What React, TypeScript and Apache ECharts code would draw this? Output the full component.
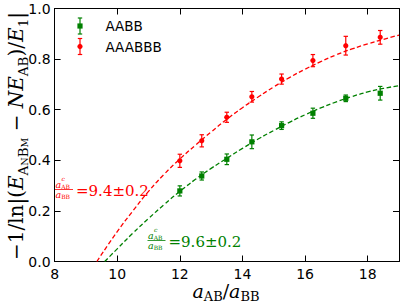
import React, { useEffect, useRef } from 'react';
import * as echarts from 'echarts';

// ---- data ----
const ratioX = [12, 12.7, 13.5, 14.3, 15.25, 16.25, 17.3, 18.4];
const aabbY = [0.279, 0.338, 0.404, 0.473, 0.537, 0.586, 0.645, 0.665];
const aabbErr = [0.02, 0.016, 0.021, 0.027, 0.015, 0.02, 0.013, 0.027];
const aaabbbY = [0.398, 0.477, 0.57, 0.651, 0.721, 0.794, 0.853, 0.886];
const aaabbbErr = [0.026, 0.024, 0.02, 0.021, 0.02, 0.024, 0.037, 0.027];

const fitRedX = [9.35, 10, 10.5, 11, 11.5, 12, 12.5, 13, 13.5, 14, 14.5, 15, 15.5, 16, 16.5, 17, 17.5, 18, 18.5, 19];
const fitRedY = [0, 0.118, 0.2, 0.277, 0.345, 0.405, 0.46, 0.512, 0.562, 0.608, 0.65, 0.69, 0.727, 0.76, 0.79, 0.817, 0.84, 0.86, 0.878, 0.895];
const fitGreenX = [9.6, 10, 10.5, 11, 11.5, 12, 12.5, 13, 13.5, 14, 14.5, 15, 15.5, 16, 16.5, 17, 17.5, 18, 18.5, 19];
const fitGreenY = [0, 0.05, 0.112, 0.17, 0.225, 0.277, 0.325, 0.368, 0.408, 0.447, 0.484, 0.518, 0.55, 0.58, 0.607, 0.631, 0.652, 0.67, 0.684, 0.695];

const seriesNames = ['AABB', 'AAABBB'];
const critRed = '9.4±0.2';
const critGreen = '9.6±0.2';

const RED = '#ff0000';
const GREEN = '#008000';
const SERIF = 'DejaVu Serif';

function zip2(a: number[], b: number[]) {
  return a.map((v, i) => [v, b[i]]);
}
function zip3(a: number[], b: number[], c: number[]) {
  return a.map((v, i) => [v, b[i], c[i]]);
}

function errorRender(color: string, shape: 'square' | 'circle') {
  return (_params: any, api: any) => {
    const x = api.value(0);
    const y = api.value(1);
    const e = api.value(2);
    const c = api.coord([x, y]);
    const t = api.coord([x, y + e]);
    const b = api.coord([x, y - e]);
    const cw = 2.2;
    const ls = { stroke: color, lineWidth: 1.2 };
    return {
      type: 'group',
      children: [
        { type: 'line', shape: { x1: c[0], y1: t[1], x2: c[0], y2: b[1] }, style: ls },
        { type: 'line', shape: { x1: c[0] - cw, y1: t[1], x2: c[0] + cw, y2: t[1] }, style: ls },
        { type: 'line', shape: { x1: c[0] - cw, y1: b[1], x2: c[0] + cw, y2: b[1] }, style: ls },
        shape === 'square'
          ? { type: 'rect', shape: { x: c[0] - 2.6, y: c[1] - 2.6, width: 5.2, height: 5.2 }, style: { fill: color } }
          : { type: 'circle', shape: { cx: c[0], cy: c[1], r: 2.6 }, style: { fill: color } },
      ],
    };
  };
}

function legendItem(x: number, y: number, color: string, shape: 'square' | 'circle', label: string) {
  const ls = { stroke: color, lineWidth: 1.2 };
  return [
    { type: 'line', shape: { x1: x, y1: y - 8, x2: x, y2: y + 8 }, style: ls },
    { type: 'line', shape: { x1: x - 2.2, y1: y - 8, x2: x + 2.2, y2: y - 8 }, style: ls },
    { type: 'line', shape: { x1: x - 2.2, y1: y + 8, x2: x + 2.2, y2: y + 8 }, style: ls },
    shape === 'square'
      ? { type: 'rect', shape: { x: x - 2.6, y: y - 2.6, width: 5.2, height: 5.2 }, style: { fill: color } }
      : { type: 'circle', shape: { cx: x, cy: y, r: 2.6 }, style: { fill: color } },
    {
      type: 'text', x: x + 25.5, y,
      style: { text: label, fill: '#000', font: '13.5px "DejaVu Sans"', align: 'left', verticalAlign: 'middle' },
    },
  ];
}

function fraction(x0: number, yBar: number, color: string, value: string) {
  return [
    {
      type: 'text', x: x0 + 0.5, y: yBar - 13,
      style: {
        text: '{gap| }{sup|c}\n{ia|a}{sub|AB}\n{ia|a}{sub|BB}',
        align: 'left', verticalAlign: 'top',
        rich: {
          gap: { width: 6, fontSize: 3, lineHeight: 3 },
          sup: { fontFamily: SERIF, fontStyle: 'italic', fontSize: 6, lineHeight: 3, fill: color },
          ia: { fontFamily: SERIF, fontStyle: 'italic', fontSize: 9.5, lineHeight: 10, fill: color },
          sub: { fontFamily: SERIF, fontSize: 6, lineHeight: 8, verticalAlign: 'bottom', fill: color },
        },
      },
    },
    { type: 'line', shape: { x1: x0, y1: yBar, x2: x0 + 18, y2: yBar }, style: { stroke: color, lineWidth: 0.8 } },
    {
      type: 'text', x: x0 + 21, y: yBar + 1,
      style: { text: '=' + value, fill: color, fontFamily: SERIF, fontSize: 15, align: 'left', verticalAlign: 'middle' },
    },
  ];
}

export default function App() {
  const ref = useRef<HTMLDivElement>(null);
  useEffect(() => {
    if (!ref.current) return;
    const chart = echarts.init(ref.current, undefined, { renderer: 'svg' });
    const axisCommon = {
      type: 'value',
      axisLine: { show: true, onZero: false, lineStyle: { color: '#000', width: 1 } },
      axisTick: { show: true, inside: true, length: 6, lineStyle: { color: '#000', width: 1 } },
      splitLine: { show: false },
    };
    const labelStyle = { color: '#000', fontSize: 14, fontFamily: 'DejaVu Sans' };
    const option: any = {
      animation: false,
      grid: { left: 54.6, right: 2.5, top: 8.5, bottom: 43.5, containLabel: false },
      xAxis: [
        {
          ...axisCommon, min: 8, max: 19, interval: 2, position: 'bottom',
          axisLabel: { ...labelStyle, margin: 5, formatter: (v: number) => (v === 19 ? '' : String(v)) },
        },
        { ...axisCommon, min: 8, max: 19, interval: 2, position: 'top', axisLabel: { show: false } },
      ],
      yAxis: [
        {
          ...axisCommon, min: 0, max: 1, interval: 0.2, position: 'left',
          axisLabel: { ...labelStyle, margin: 4, formatter: (v: number) => v.toFixed(1) },
        },
        { ...axisCommon, min: 0, max: 1, interval: 0.2, position: 'right', axisLabel: { show: false } },
      ],
      series: [
        {
          type: 'line', data: zip2(fitGreenX, fitGreenY), smooth: 0.5,
          symbol: 'none', clip: true, z: 1,
          lineStyle: { color: GREEN, width: 1.3, type: [4.5, 2.5] },
        },
        {
          type: 'line', data: zip2(fitRedX, fitRedY), smooth: 0.5,
          symbol: 'none', clip: true, z: 1,
          lineStyle: { color: RED, width: 1.3, type: [4.5, 2.5] },
        },
        {
          name: seriesNames[0], type: 'custom', renderItem: errorRender(GREEN, 'square'),
          data: zip3(ratioX, aabbY, aabbErr), encode: { x: 0, y: 1 }, z: 3,
        },
        {
          name: seriesNames[1], type: 'custom', renderItem: errorRender(RED, 'circle'),
          data: zip3(ratioX, aaabbbY, aaabbbErr), encode: { x: 0, y: 1 }, z: 3,
        },
      ],
      graphic: [
        ...legendItem(80, 26, GREEN, 'square', seriesNames[0]),
        ...legendItem(80, 46.5, RED, 'circle', seriesNames[1]),
        ...fraction(55, 189.5, RED, critRed),
        ...fraction(147.5, 240.5, GREEN, critGreen),
        {
          type: 'text', x: 226, y: 291,
          style: {
            text: '{it|a}{sub|AB}{rm|/}{it|a}{sub|BB}',
            align: 'center', verticalAlign: 'middle',
            rich: {
              it: { fontFamily: SERIF, fontStyle: 'italic', fontSize: 19, lineHeight: 24, fill: '#000' },
              rm: { fontFamily: SERIF, fontSize: 19, lineHeight: 24, fill: '#000' },
              sub: { fontFamily: SERIF, fontSize: 13, lineHeight: 13, verticalAlign: 'bottom', fill: '#000' },
            },
          },
        },
        {
          type: 'text', x: 16, y: 136, rotation: Math.PI / 2,
          style: {
            text: '{rm|−1/ln|(}{it|E}{sub|A}{ss|N}{sub|B}{ss|M}{rm| − }{it|NE}{sub|AB}{rm|)/}{it|E}{sub|1}{rm||}',
            align: 'center', verticalAlign: 'middle',
            rich: {
              it: { fontFamily: SERIF, fontStyle: 'italic', fontSize: 20, lineHeight: 27, fill: '#000' },
              rm: { fontFamily: SERIF, fontSize: 20, lineHeight: 27, fill: '#000' },
              sub: { fontFamily: SERIF, fontSize: 13.5, lineHeight: 14, verticalAlign: 'bottom', fill: '#000' },
              ss: { fontFamily: SERIF, fontSize: 9.5, lineHeight: 6, verticalAlign: 'bottom', fill: '#000' },
            },
          },
        },
      ],
    };
    chart.setOption(option);
    return () => chart.dispose();
  }, []);
  return <div ref={ref} style={{ width: 402, height: 305, position: 'absolute', left: 0, top: 0 }} />;
}
